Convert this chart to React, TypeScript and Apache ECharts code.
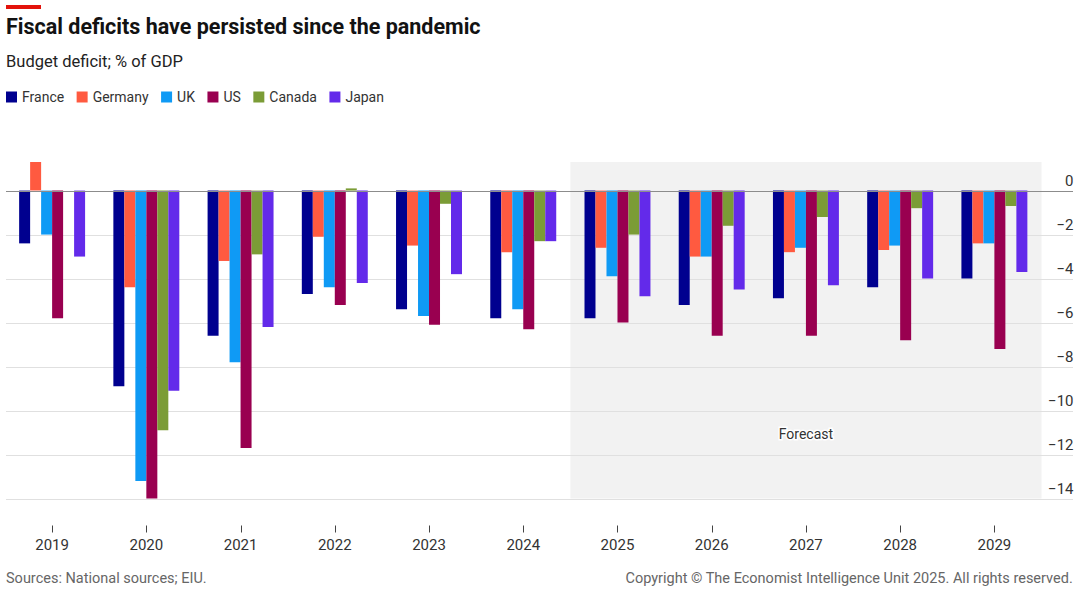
import React, { useEffect, useRef } from "react";
import * as echarts from "echarts";

const years = ["2019", "2020", "2021", "2022", "2023", "2024", "2025", "2026", "2027", "2028", "2029"];
const france = [-2.4, -8.9, -6.6, -4.7, -5.4, -5.8, -5.8, -5.2, -4.9, -4.4, -4.0];
const germany = [1.3, -4.4, -3.2, -2.1, -2.5, -2.8, -2.6, -3.0, -2.8, -2.7, -2.4];
const uk = [-2.0, -13.2, -7.8, -4.4, -5.7, -5.4, -3.9, -3.0, -2.6, -2.5, -2.4];
const us = [-5.8, -14.0, -11.7, -5.2, -6.1, -6.3, -6.0, -6.6, -6.6, -6.8, -7.2];
const canada = [0.0, -10.9, -2.9, 0.1, -0.6, -2.3, -2.0, -1.6, -1.2, -0.8, -0.7];
const japan = [-3.0, -9.1, -6.2, -4.2, -3.8, -2.3, -4.8, -4.5, -4.3, -4.0, -3.7];
const yTicks = [0, -2, -4, -6, -8, -10, -12, -14];
const forecastFrom = "2025";
const forecastTo = "2029";

const seriesDefs = [
  { name: "France", data: france, color: "#00008f" },
  { name: "Germany", data: germany, color: "#ff5a40" },
  { name: "UK", data: uk, color: "#0f9af5" },
  { name: "US", data: us, color: "#990050" },
  { name: "Canada", data: canada, color: "#7b9c36" },
  { name: "Japan", data: japan, color: "#632aea" },
];

const FONT = "Roboto, 'Noto Sans', sans-serif";
const fmt = (v: number) => (v < 0 ? "\u2212" + Math.abs(v) : String(v));

export default function App() {
  const ref = useRef<HTMLDivElement>(null);
  useEffect(() => {
    document.body.style.margin = "0";
    if (!ref.current) return;
    const chart = echarts.init(ref.current, undefined, { renderer: "svg" });
    const gridLeft = 5;
    const gridRight = 1080 - 1041.5;
    const gridTop = 162;
    const gridBottom = 598 - 498.5;
    const axisOffset = 27;
    chart.setOption({
      animation: false,
      textStyle: { fontFamily: FONT },
      title: [
        {
          text: "Fiscal deficits have persisted since the pandemic",
          left: 6,
          top: 15,
          padding: 0,
          textStyle: { fontSize: 21.5, fontWeight: "bold", color: "#121212", fontFamily: FONT },
        },
        {
          text: "Budget deficit; % of GDP",
          left: 6,
          top: 53,
          padding: 0,
          textStyle: { fontSize: 16.5, fontWeight: "normal", color: "#222", fontFamily: FONT },
        },
        {
          text: "Sources: National sources; EIU.",
          left: 6,
          top: 571,
          padding: 0,
          textStyle: { fontSize: 14.5, fontWeight: "normal", color: "#666", fontFamily: FONT },
        },
        {
          text: "Copyright \u00a9 The Economist Intelligence Unit 2025. All rights reserved.",
          right: 7,
          top: 571,
          padding: 0,
          textStyle: { fontSize: 14.5, fontWeight: "normal", color: "#666", fontFamily: FONT },
        },
      ],
      legend: {
        left: 6,
        top: 90,
        padding: 0,
        icon: "rect",
        itemWidth: 11,
        itemHeight: 11,
        itemGap: 12.5,
        textStyle: { fontSize: 14, color: "#333", fontFamily: FONT },
        data: seriesDefs.map((s) => s.name),
      },
      grid: { left: gridLeft, right: gridRight, top: gridTop, bottom: gridBottom, containLabel: false },
      xAxis: {
        type: "category",
        data: years,
        position: "bottom",
        offset: axisOffset,
        axisLine: { show: false, onZero: false },
        axisTick: { show: false },
        axisLabel: { margin: 12, fontSize: 15, color: "#333", fontFamily: FONT },
        splitLine: { show: false },
      },
      yAxis: {
        type: "value",
        position: "right",
        min: -14,
        max: 1.3,
        interval: 2,
        axisLine: { show: false },
        axisTick: { show: false },
        splitLine: { show: false },
        axisLabel: {
          showMaxLabel: false,
          margin: 32,
          align: "right",
          verticalAlign: "bottom",
          padding: [0, 0, 2, 0],
          fontSize: 15,
          color: "#333",
          fontFamily: FONT,
          formatter: (v: number) => (Number.isInteger(v) ? fmt(v) : ""),
        },
      },
      series: seriesDefs.map((s) => ({
        name: s.name,
        type: "bar",
        data: s.data,
        barGap: "0%",
        barCategoryGap: "30%",
        itemStyle: { color: s.color },
        z: 5,
      })),
    });

    const yPx = (v: number) => chart.convertToPixel({ yAxisIndex: 0 }, v) as number;
    const xPx = (c: string) => chart.convertToPixel({ xAxisIndex: 0 }, c) as number;
    const bw = xPx(years[1]) - xPx(years[0]);
    const bx0 = xPx(forecastFrom) - bw / 2;
    const bx1 = xPx(forecastTo) + bw / 2;
    const by0 = yPx(1.3);
    const by1 = yPx(-14);
    const lineEnd = 1073;

    const graphics: any[] = [
      {
        type: "rect",
        shape: { x: bx0, y: by0, width: bx1 - bx0, height: by1 - by0 },
        style: { fill: "#f2f2f2" },
        z: 0,
        silent: true,
      },
      {
        type: "rect",
        shape: { x: 6, y: 5, width: 35, height: 4 },
        style: { fill: "#e3120b" },
        z: 1,
      },
      {
        type: "text",
        x: (bx0 + bx1) / 2,
        y: by1 - 65,
        style: {
          text: "Forecast",
          fontSize: 14,
          fontFamily: FONT,
          fill: "#333",
          align: "center",
          verticalAlign: "middle",
          stroke: "#fff",
          lineWidth: 3,
        },
        z: 3,
      },
    ];
    yTicks.forEach((t) => {
      const y = Math.round(yPx(t)) + 0.5;
      graphics.push({
        type: "line",
        shape: { x1: gridLeft + 1, y1: y, x2: lineEnd, y2: y },
        style: { stroke: t === 0 ? "#8c8c8c" : "#e0e0e0", lineWidth: 1 },
        z: t === 0 ? 10 : 1,
        silent: true,
      });
    });
    years.forEach((yr) => {
      const x = Math.round(xPx(yr)) + 0.5;
      graphics.push({
        type: "line",
        shape: { x1: x, y1: by1 + axisOffset, x2: x, y2: by1 + axisOffset + 7 },
        style: { stroke: "#444", lineWidth: 1 },
        z: 3,
        silent: true,
      });
    });
    chart.setOption({ graphic: graphics });

    return () => chart.dispose();
  }, []);
  return <div ref={ref} style={{ width: 1080, height: 598 }} />;
}
